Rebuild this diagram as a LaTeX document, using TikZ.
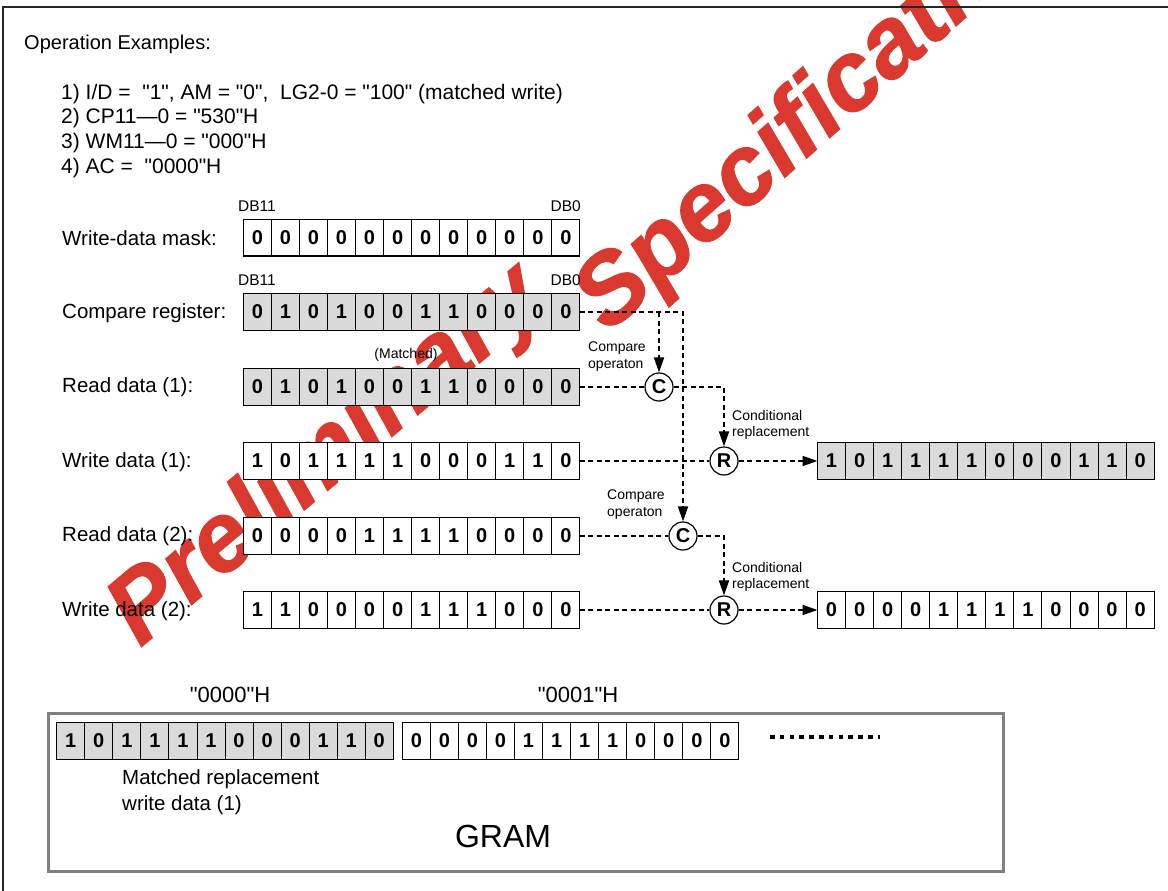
\documentclass[tikz,border=0pt]{standalone}
\usepackage{fontspec}
\setmainfont{Liberation Sans}[Ligatures=TeXOff]
\newfontfamily\wmfont{Liberation Sans}[FakeBold=1.2]
\usetikzlibrary{arrows.meta,calc}
\definecolor{wmred}{RGB}{217,57,47}
\definecolor{cellgray}{RGB}{218,218,218}
\definecolor{boxgray}{RGB}{128,128,128}
\newcommand{\bitreg}[4]{%
  \node[reg, fill=#3, anchor=west] (#1) at #2 {};
  \foreach \b [count=\i] in {#4} {
    \node[cell] (#1-\i) at ($(#1.west)+(\i*28.05-14.025,0)$) {\b};
  }
}
\begin{document}
\begin{tikzpicture}[x=1pt,y=-1pt,
  reg/.style={draw=black, line width=1pt, minimum width=336.6pt, minimum height=36.7pt, inner sep=0pt, outer sep=0pt},
  cell/.style={draw=black, line width=0.9pt, minimum width=28.05pt, minimum height=36.7pt, inner sep=0pt, font=\bfseries\fontsize{20}{20}\selectfont},
  lbl/.style={anchor=west, inner sep=0pt, font=\fontsize{20.5}{24.5}\selectfont},
  txt/.style={anchor=base west, inner sep=0pt, font=\fontsize{21}{24.5}\selectfont},
  small/.style={anchor=north west, align=left, inner sep=0pt, font=\fontsize{14}{16.5}\selectfont},
  dbl/.style={inner sep=0pt, font=\fontsize{15.5}{15.5}\selectfont},
  op/.style={circle, draw=black, line width=1.2pt, minimum size=28pt, inner sep=0pt, fill=white, font=\bfseries\fontsize{20}{20}\selectfont},
  dl/.style={line width=1.8pt, dash pattern=on 5pt off 3.5pt},
  arr/.style={-{Triangle[length=15pt,width=10pt]}},
  wmtext/.style={inner sep=0pt, text=wmred, font=\wmfont\bfseries\itshape\fontsize{98}{98}\selectfont}
]
\useasboundingbox (0,0) rectangle (1168,891);
% watermark
\node[wmtext, anchor=base west, rotate=40] (wm1) at (140,648) {Preliminary};
\path (wm1.base east) ++(40:27) ++(38,12) coordinate (sp);
\node[wmtext, anchor=base west, rotate=41.5] (wm2) at (sp) {Specification};
% frame
\draw[line width=1.2pt, draw=black!85] (3,891) -- (3,7) -- (1168,7);
% heading texts
\node[txt, font=\fontsize{20}{24}\selectfont] (t0) at (24,49.5) {Operation Examples:};
\node[txt] (t1) at (61,99.5) {1) I/D =~~"1", AM = "0",~~LG2-0 = "100" (matched write)};
\node[txt] (t2) at (61,124) {2) CP11—0 = "530"H};
\node[txt] (t3) at (61,148.5) {3) WM11—0 = "000"H};
\node[txt] (t4) at (61,173) {4) AC =~~"0000"H};
% row labels
\node[lbl] (l1) at (62,238) {Write-data mask:};
\node[lbl] (l2) at (62,313) {Compare register:};
\node[lbl] (l3) at (62,387) {Read data (1):};
\node[lbl] (l4) at (62,462) {Write data (1):};
\node[lbl] (l5) at (62,536) {Read data (2):};
\node[lbl] (l6) at (62,611) {Write data (2):};
% DB labels
\node[dbl, anchor=west] (db11a) at (238,206) {DB11};
\node[dbl, anchor=east] (db0a) at (581,206) {DB0};
\node[dbl, anchor=west] (db11b) at (238,280) {DB11};
\node[dbl, anchor=east] (db0b) at (581,280) {DB0};
\node[small, anchor=center] (match) at (406,355) {(Matched)};
% operators
\node[op] (C1) at (659,387) {C};
\node[op] (R1) at (724,461) {R};
\node[op] (C2) at (683,536) {C};
\node[op] (R2) at (724,610) {R};
% registers
\bitreg{mask}{(243.3,237.6)}{white}{0,0,0,0,0,0,0,0,0,0,0,0}
\bitreg{cmp}{(243.3,312)}{cellgray}{0,1,0,1,0,0,1,1,0,0,0,0}
\bitreg{rd1}{(243.3,387)}{cellgray}{0,1,0,1,0,0,1,1,0,0,0,0}
\bitreg{wr1}{(243.3,461)}{white}{1,0,1,1,1,1,0,0,0,1,1,0}
\bitreg{rd2}{(243.3,536)}{white}{0,0,0,0,1,1,1,1,0,0,0,0}
\bitreg{wr2}{(243.3,610)}{white}{1,1,0,0,0,0,1,1,1,0,0,0}
\bitreg{res1}{(817.5,461)}{cellgray}{1,0,1,1,1,1,0,0,0,1,1,0}
\bitreg{res2}{(817.5,610)}{white}{0,0,0,0,1,1,1,1,0,0,0,0}
% connectors
\coordinate (b1) at (C1.north |- cmp.east);
\draw[dl, arr] (cmp.east) -| (C2.north);
\draw[dl, arr] (b1) -- (C1.north);
\draw[dl] (rd1.east) -- (C1.west);
\draw[dl, arr] (C1.east) -| (R1.north);
\draw[dl] (wr1.east) -- (R1.west);
\draw[dl, arr] (R1.east) -- (res1.west);
\draw[dl] (rd2.east) -- (C2.west);
\draw[dl, arr] (C2.east) -| (R2.north);
\draw[dl] (wr2.east) -- (R2.west);
\draw[dl, arr] (R2.east) -- (res2.west);
% small labels
\node[small] (cop1) at (588,342) {Compare\\operaton};
\node[small] (cop2) at (607,490) {Compare\\operaton};
\node[small] (cr1) at (732,410) {Conditional\\replacement};
\node[small] (cr2) at (732,562) {Conditional\\replacement};
% GRAM
\node[draw=boxgray, line width=3pt, minimum width=955pt, minimum height=158.4pt, inner sep=0pt] (gram) at (525.8,792.5) {};
\bitreg{g1}{(56.7,741)}{cellgray}{1,0,1,1,1,1,0,0,0,1,1,0}
\bitreg{g2}{(402.3,741)}{white}{0,0,0,0,1,1,1,1,0,0,0,0}
\node[inner sep=0pt, font=\fontsize{22}{22}\selectfont] (a0) at (230,695) {"0000"H};
\node[inner sep=0pt, font=\fontsize{22}{22}\selectfont] (a1) at (578,695) {"0001"H};
\coordinate (d0) at (770,737);
\coordinate (d1) at (880,737);
\draw[line width=4.5pt, dash pattern=on 4.5pt off 5.3pt] (d0) -- (d1);
\node[small, font=\fontsize{20.5}{26.5}\selectfont] (mr) at (122,769) {Matched replacement\\write data (1)};
\node[inner sep=0pt, font=\fontsize{32}{32}\selectfont] (gl) at (503,836) {GRAM};
\end{tikzpicture}
\end{document}
